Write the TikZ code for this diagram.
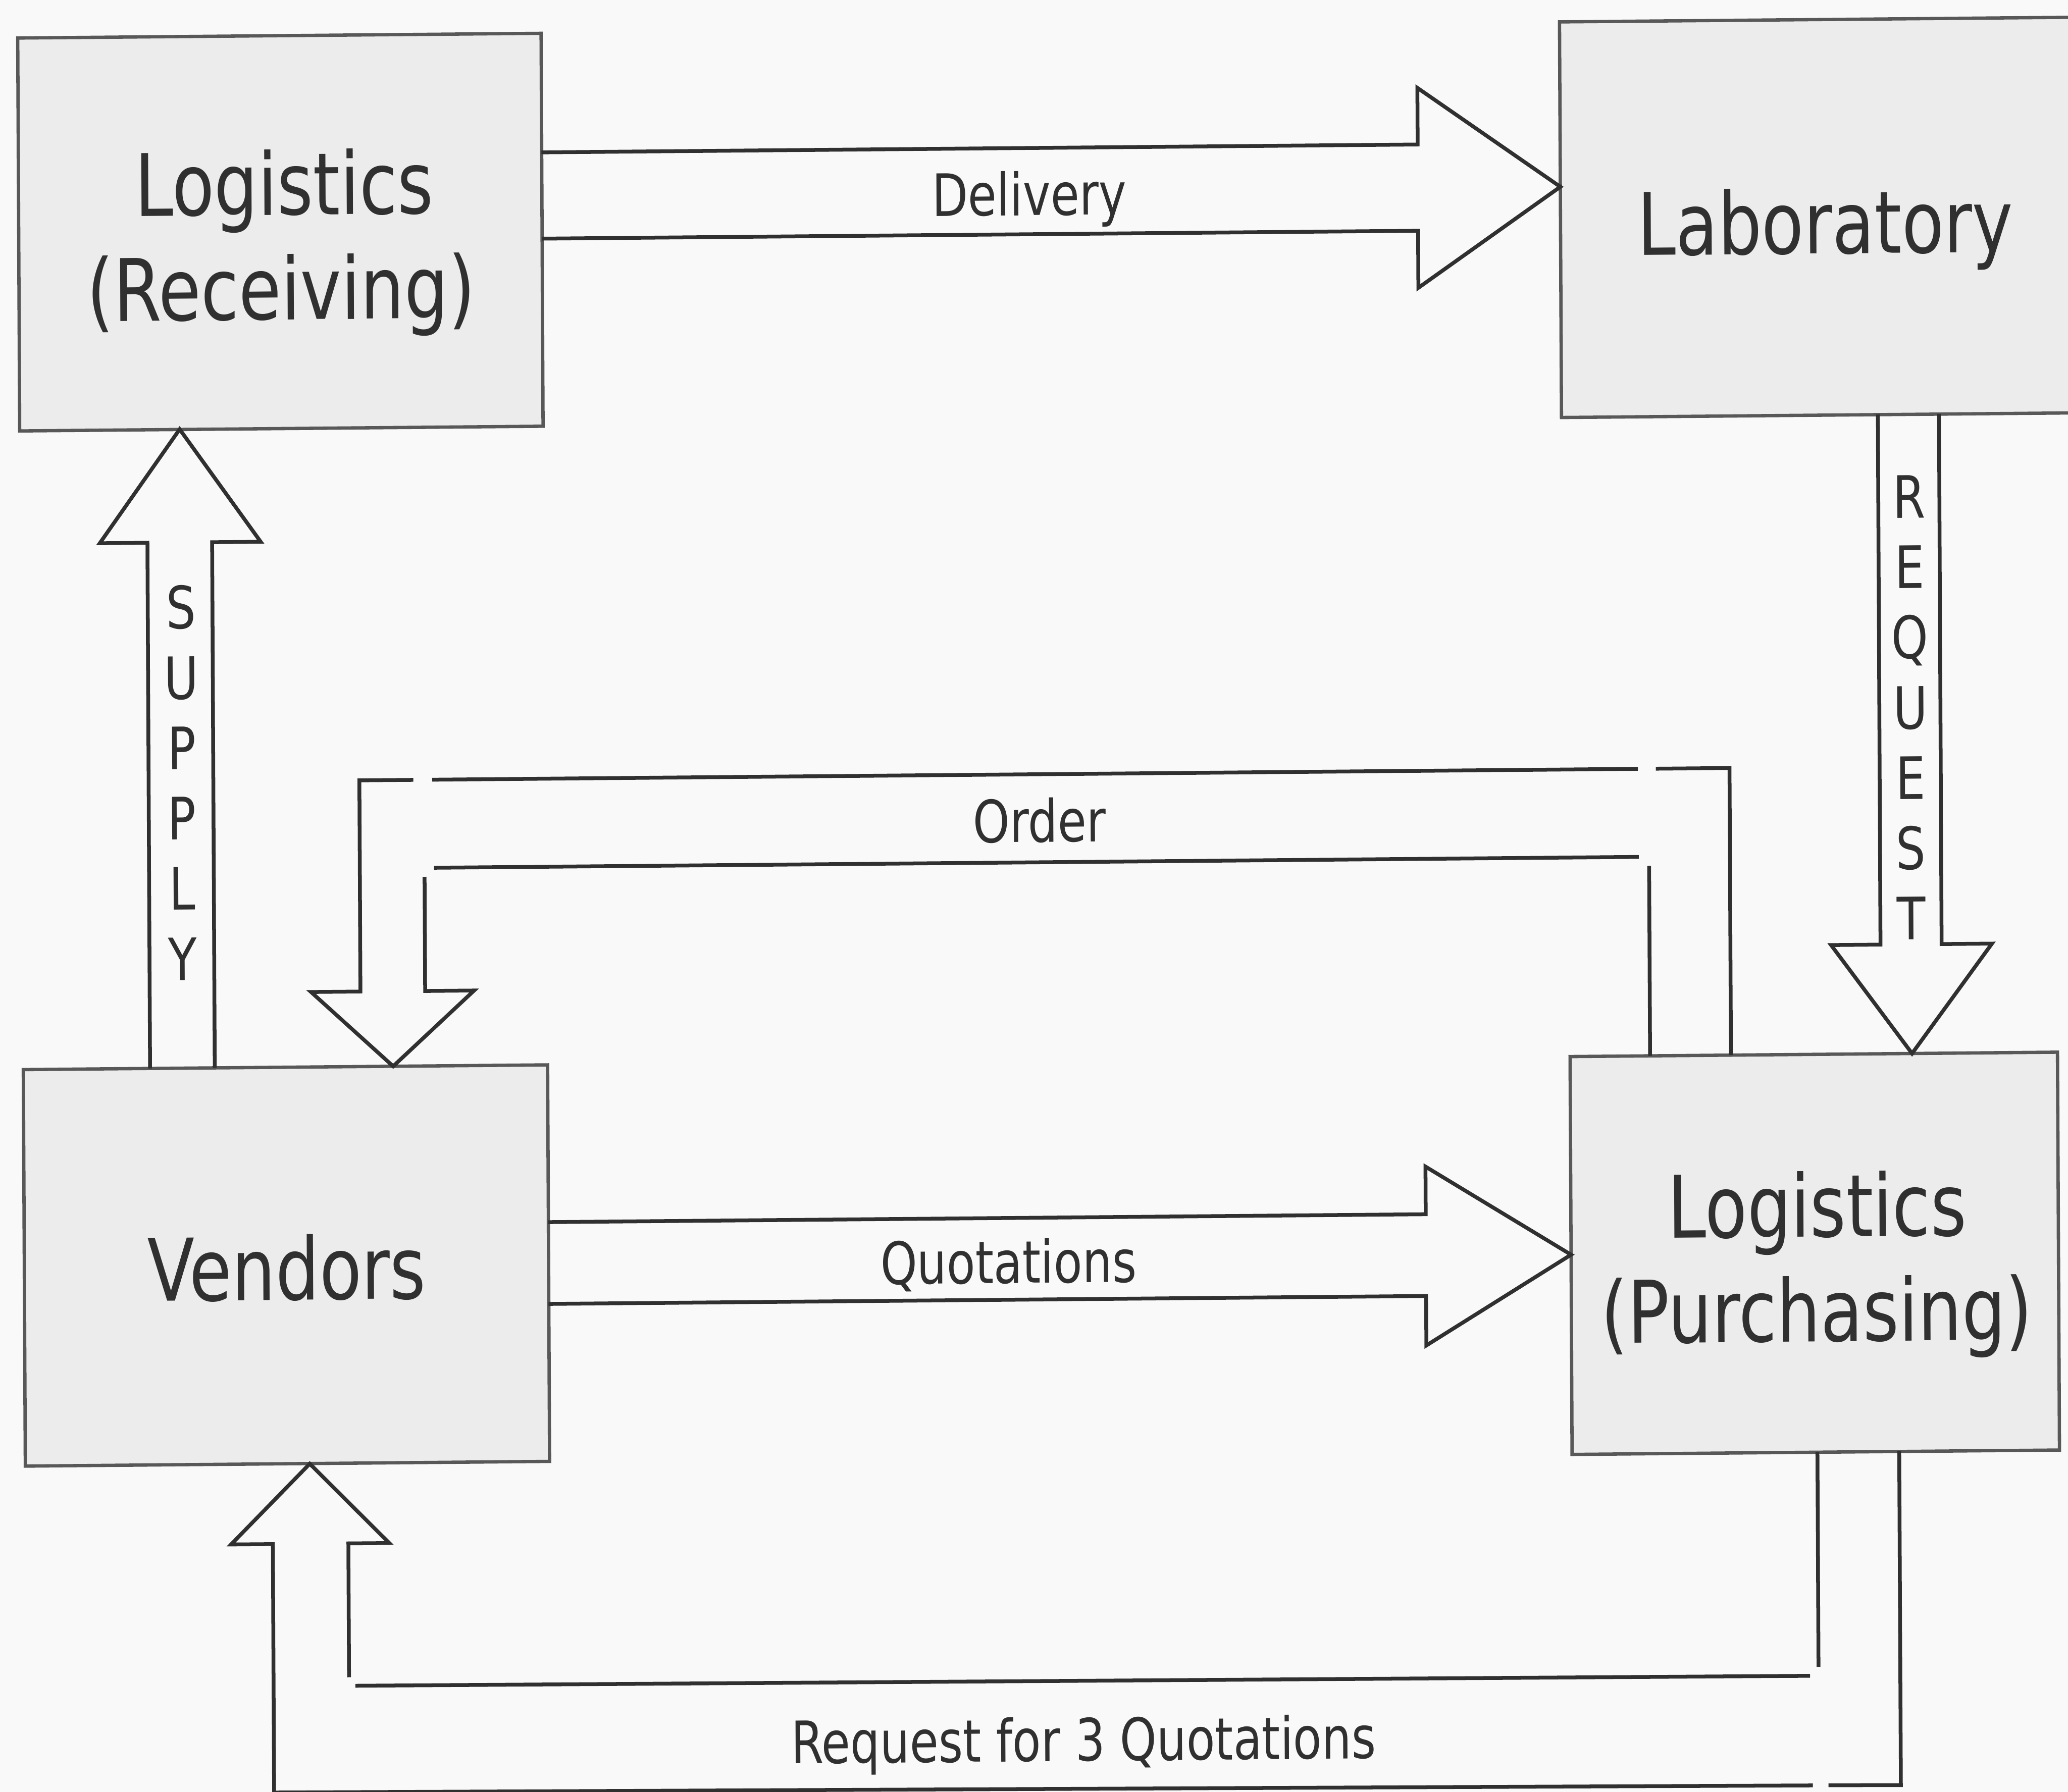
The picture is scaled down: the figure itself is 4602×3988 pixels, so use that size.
\documentclass[tikz,border=0pt]{standalone}
\usepackage{fontspec}
\setmainfont{DejaVu Sans}[FakeStretch=0.8]
\usetikzlibrary{calc}

\definecolor{paper}{HTML}{F9F9F9}
\definecolor{boxfill}{HTML}{ECECEC}
\definecolor{boxline}{HTML}{585858}
\definecolor{ink}{HTML}{303030}

\tikzset{
  unitbox/.style={draw=boxline, line width=2.1pt, fill=boxfill, inner sep=0pt,
                  outer sep=0pt, anchor=north west},
  flow/.style={draw=ink, line width=2.4pt, line join=miter},
  boxtext/.style={font=\fontsize{54.6}{66}\selectfont, text=ink, inner sep=0pt, anchor=base},
  tag/.style={font=\fontsize{37}{44.5}\selectfont, text=ink, inner sep=0pt, anchor=base},
  spell/.style={font=\fontsize{37}{44.5}\selectfont, text=ink, inner sep=0pt, align=center},
}

\begin{document}
\begin{tikzpicture}[x=0.01cm, y=-0.01cm]
  % page
  \fill[paper] (0,0) rectangle (4602,3988);
  \useasboundingbox (0,0) rectangle (4602,3988);

  \begin{scope}[cm={1,0.009,-0.005,1,(0,0)}, every node/.append style={transform shape}]
    % departments
    \node[unitbox, minimum width=11.64cm, minimum height=8.74cm] (recv)  at (39,85) {};
    \node[unitbox, minimum width=13.00cm, minimum height=8.80cm] (lab)   at (3470,80) {};
    \node[unitbox, minimum width=11.66cm, minimum height=8.82cm] (vend)  at (40,2381) {};
    \node[unitbox, minimum width=10.84cm, minimum height=8.85cm] (purch) at (3482,2383) {};

    \node[boxtext] (recvA)  at (630,484)   {Logistics};
    \node[boxtext] (recvB)  at (622,717)   {(Receiving)};
    \node[boxtext] (labA)   at (4059,601)  {Laboratory};
    \node[boxtext] (vendA)  at (624,2899)  {Vendors};
    \node[boxtext] (purchA) at (4030,2789) {Logistics};
    \node[boxtext] (purchB) at (4028,3022) {(Purchasing)};

    % Delivery: receiving -> laboratory
    \draw[flow] (1203,350) -- (3153,350) -- (3153,224) -- (3470,447)
                -- (3153,669) -- (3153,542) -- (1203,542);
    \node[tag] (delivery) at (2288,500) {Delivery};

    % Quotations: vendors -> purchasing
    \draw[flow] (1206,2731) -- (3159,2731) -- (3159,2625) -- (3482,2824)
                -- (3159,3023) -- (3159,2913) -- (1206,2913);
    \node[tag] (quotes) at (2230,2876) {Quotations};

    % Supply: vendors -> receiving
    \draw[flow] (322,2381) -- (322,1211) -- (216,1211) -- (395,959)
                -- (574,1211) -- (466,1211) -- (466,2381);
    \node[spell] (supply) at (396,1746) {S\\U\\P\\P\\L\\Y};

    % Request: laboratory -> purchasing
    \draw[flow] (4174,960) -- (4174,2140) -- (4064,2140) -- (4243,2383)
                -- (4422,2140) -- (4310,2140) -- (4310,960);
    \node[spell] (request) at (4243,1613) {R\\E\\Q\\U\\E\\S\\T};

    % Order: purchasing -> vendors (bent arrow)
    \draw[flow] (3840,2383) -- (3840,1744) -- (3676,1744);
    \draw[flow] (3636,1744) -- (953,1744);
    \draw[flow] (911,1744) -- (791,1744) -- (791,2214) -- (681,2214) -- (863,2381)
                -- (1044,2214) -- (935,2214) -- (935,1960);
    \draw[flow] (956,1940) -- (3637,1940);
    \draw[flow] (3660,1960) -- (3660,2383);
    \node[tag] (order) at (2304,1895) {Order};

    % Request for 3 Quotations: purchasing -> vendors (bent arrow)
    \draw[flow] (4210,3268) -- (4210,4011) -- (4049,4010);
    \draw[flow] (4014,4010) -- (590,3995) -- (590,3442) -- (497,3442) -- (673,3264)
                -- (849,3442) -- (758,3442) -- (758,3740);
    \draw[flow] (772,3759) -- (4009,3766);
    \draw[flow] (4028,3746) -- (4028,3268);
    \node[tag] (rfq) at (2392,3941) {Request for 3 Quotations};
  \end{scope}
\end{tikzpicture}
\end{document}
